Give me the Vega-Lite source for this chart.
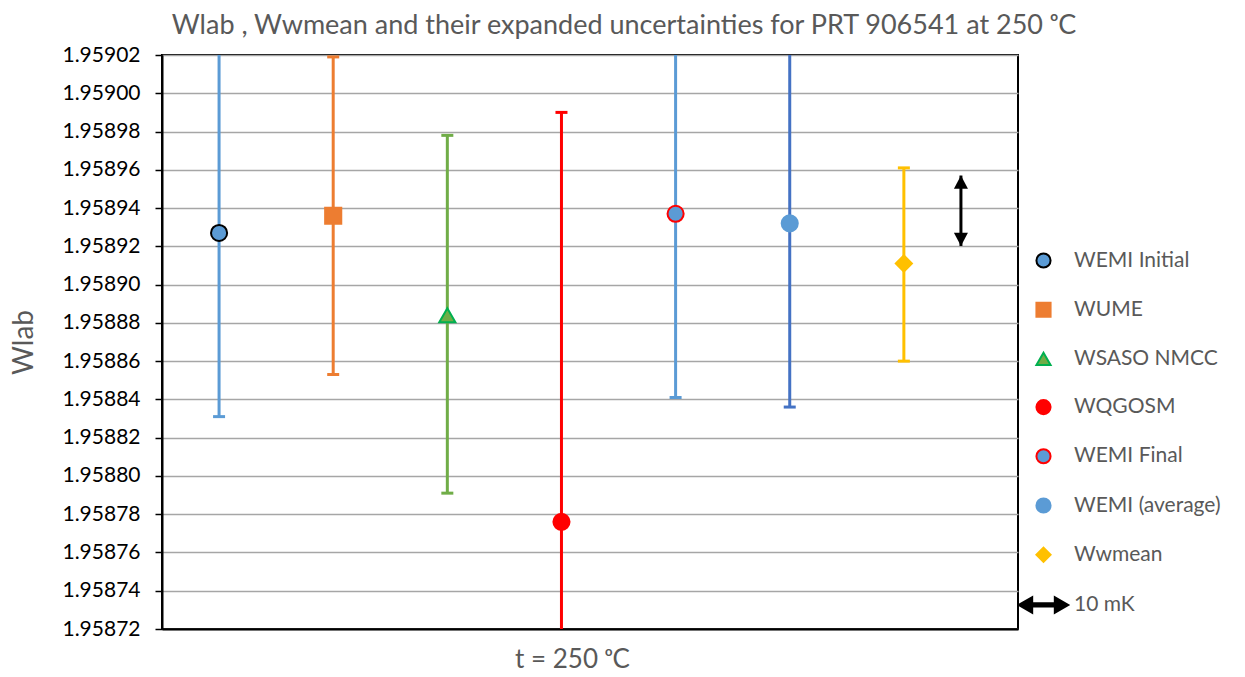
{
  "$schema": "https://vega.github.io/schema/vega-lite/v6.json",
  "width": 856,
  "height": 574,
  "autosize": {"type": "none"},
  "padding": {"left": 162, "top": 55, "right": 227, "bottom": 48},
  "background": "white",
  "config": {
    "font": "Lato",
    "view": {"stroke": "#000000", "strokeWidth": 2},
    "legend": {"labelFontSize": 21, "labelColor": "#595959", "symbolSize": 200, "rowPadding": 26.2, "labelOffset": 20, "padding": 0, "symbolStrokeWidth": 2, "symbolOpacity": 1}
  },
  "title": {"text": "Wlab , Wwmean and their expanded uncertainties for PRT 906541 at 250 ᵒC", "fontSize": 27, "color": "#595959", "fontWeight": "normal", "anchor": "middle", "dx": 34, "offset": 4},
  "datasets": {
    "pts": [
      {"series": "WEMI Initial", "x": 0.5, "w": 1.958927, "lo": 1.958831, "hi": 1.959023},
      {"series": "WUME", "x": 1.5, "w": 1.958936, "lo": 1.958853, "hi": 1.959019},
      {"series": "WSASO NMCC", "x": 2.5, "w": 1.958884, "lo": 1.958791, "hi": 1.958978},
      {"series": "WQGOSM", "x": 3.5, "w": 1.958776, "lo": 1.958562, "hi": 1.95899},
      {"series": "WEMI Final", "x": 4.5, "w": 1.958937, "lo": 1.958841, "hi": 1.959033},
      {"series": "WEMI (average)", "x": 5.5, "w": 1.958932, "lo": 1.958836, "hi": 1.959028},
      {"series": "Wwmean", "x": 6.5, "w": 1.958911, "lo": 1.95886, "hi": 1.958961}
    ],
    "arrow": [
      {"x": 7.0, "lo": 1.9589202, "hi": 1.958957}
    ]
  },
  "encoding": {
    "x": {"field": "x", "type": "quantitative", "scale": {"domain": [0, 7.5], "nice": false, "zero": false},
      "axis": {"labels": false, "ticks": false, "grid": false, "domainColor": "#000000", "domainWidth": 2, "title": "t = 250 ᵒC", "titleFontSize": 26, "titleColor": "#595959", "titleFontWeight": "normal", "titlePadding": 17, "titleX": 410}}
  },
  "layer": [
    {
      "data": {"name": "pts"},
      "mark": {"type": "rule", "strokeWidth": 3, "clip": true},
      "encoding": {
        "y": {"field": "lo", "type": "quantitative", "scale": {"domain": [1.95872, 1.95902], "nice": false, "zero": false},
          "axis": {"values": [1.95872, 1.95874, 1.95876, 1.95878, 1.9588, 1.95882, 1.95884, 1.95886, 1.95888, 1.9589, 1.95892, 1.95894, 1.95896, 1.95898, 1.959, 1.95902],
            "tickCount": 30, "labelOverlap": false,
            "format": ".5f", "grid": true, "gridColor": "#A6A6A6", "gridWidth": 1.5, "domainColor": "#000000", "domainWidth": 2, "tickColor": "#000000", "tickSize": 7, "tickWidth": 1.5, "labelFontSize": 21, "labelColor": "#000000", "labelPadding": 15,
            "title": "Wlab", "titleFontSize": 28, "titleColor": "#595959", "titleFontWeight": "normal", "titlePadding": 23}},
        "y2": {"field": "hi"},
        "color": {"field": "series", "type": "nominal", "legend": null,
          "scale": {"domain": ["WEMI Initial", "WUME", "WSASO NMCC", "WQGOSM", "WEMI Final", "WEMI (average)", "Wwmean"],
            "range": ["#5B9BD5", "#ED7D31", "#70AD47", "#FF0000", "#5B9BD5", "#4472C4", "#FFC000"]}}
      }
    },
    {
      "data": {"name": "pts"},
      "mark": {"type": "tick", "orient": "horizontal", "size": 12, "thickness": 3, "clip": true, "opacity": 1},
      "encoding": {"y": {"field": "lo", "type": "quantitative"}, "color": {"field": "series", "type": "nominal", "legend": null}}
    },
    {
      "data": {"name": "pts"},
      "mark": {"type": "tick", "orient": "horizontal", "size": 12, "thickness": 3, "clip": true, "opacity": 1},
      "encoding": {"y": {"field": "hi", "type": "quantitative"}, "color": {"field": "series", "type": "nominal", "legend": null}}
    },
    {
      "data": {"name": "arrow"},
      "mark": {"type": "rule", "strokeWidth": 3, "color": "#000000"},
      "encoding": {"y": {"field": "lo", "type": "quantitative"}, "y2": {"field": "hi"}}
    },
    {
      "data": {"name": "arrow"},
      "mark": {"type": "point", "filled": true, "opacity": 1, "color": "#000000", "size": 196, "shape": "M0,0L-1,1.9L1,1.9Z"},
      "encoding": {"y": {"field": "hi", "type": "quantitative"}}
    },
    {
      "data": {"name": "arrow"},
      "mark": {"type": "point", "filled": true, "opacity": 1, "color": "#000000", "size": 196, "shape": "M0,0L-1,-1.9L1,-1.9Z"},
      "encoding": {"y": {"field": "lo", "type": "quantitative"}}
    },
    {
      "data": {"name": "pts"},
      "mark": {"type": "point", "filled": true, "opacity": 1, "size": 260, "strokeWidth": 2},
      "encoding": {
        "y": {"field": "w", "type": "quantitative"},
        "fill": {"field": "series", "type": "nominal",
          "scale": {"domain": ["WEMI Initial", "WUME", "WSASO NMCC", "WQGOSM", "WEMI Final", "WEMI (average)", "Wwmean", "10 mK"],
            "range": ["#5B9BD5", "#ED7D31", "#70AD47", "#FF0000", "#5B9BD5", "#5B9BD5", "#FFC000", "#000000"]},
          "legend": {"title": null, "orient": "none", "legendX": 871, "legendY": 195}},
        "stroke": {"field": "series", "type": "nominal",
          "scale": {"domain": ["WEMI Initial", "WUME", "WSASO NMCC", "WQGOSM", "WEMI Final", "WEMI (average)", "Wwmean", "10 mK"],
            "range": ["#000000", "#ED7D31", "#00B050", "#FF0000", "#FF0000", "#5B9BD5", "#FFC000", "#000000"]},
          "legend": {"title": null, "orient": "none", "legendX": 871, "legendY": 195}},
        "shape": {"field": "series", "type": "nominal",
          "scale": {"domain": ["WEMI Initial", "WUME", "WSASO NMCC", "WQGOSM", "WEMI Final", "WEMI (average)", "Wwmean", "10 mK"],
            "range": ["circle", "square", "triangle-up", "circle", "circle", "circle", "diamond", "M-3.5,0L-1.6,-1.1L-1.6,-0.22L1.6,-0.22L1.6,-1.1L3.5,0L1.6,1.1L1.6,0.22L-1.6,0.22L-1.6,1.1Z"]},
          "legend": {"title": null, "orient": "none", "legendX": 871, "legendY": 195}}
      }
    }
  ]
}
